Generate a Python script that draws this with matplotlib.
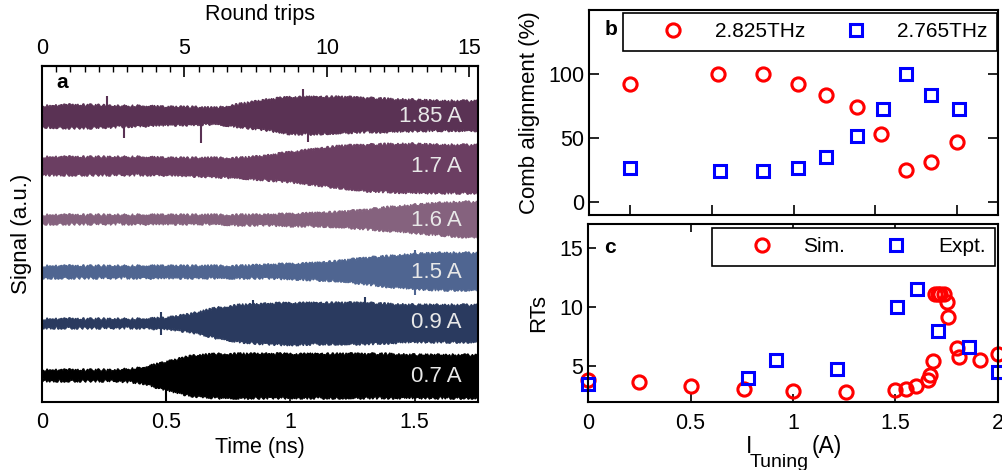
import numpy as np
import matplotlib
matplotlib.use('Agg')
import matplotlib.pyplot as plt
from matplotlib.ticker import MultipleLocator, FixedLocator, NullFormatter

plt.rcParams['font.family'] = ['Liberation Sans', 'DejaVu Sans']
plt.rcParams['font.size'] = 15.5
plt.rcParams['axes.linewidth'] = 1.5

FS_TICK = 15.5
FS_XLAB = 15.5
FS_YLAB = 16
FS_LEG = 15
FS_LETTER = 15

# ---------------- Panel a data (envelopes) ----------------
TIME_NS = [0.0, 0.1, 0.2, 0.3, 0.4, 0.5, 0.6, 0.7, 0.8, 0.9,
           1.0, 1.1, 1.2, 1.3, 1.4, 1.5, 1.6, 1.7, 1.8]
ROUND_TRIP_NS = 0.1147
TRACE_LABELS = ['1.85 A', '1.7 A', '1.6 A', '1.5 A', '0.9 A', '0.7 A']
TRACE_OFFSETS = [28.6, 23.6, 18.2, 13.0, 7.9, 2.6]
TRACE_COLORS = ['#5a3254', '#6b3e62', '#85627e', '#4f6591', '#2a3a5f', '#000000']

ENV_UP_185 = [1.0, 1.1, 1.1, 1.0, 1.0, 0.9, 0.9, 0.8, 1.2, 1.6, 1.9, 1.9, 1.9, 1.8, 1.7, 1.6, 1.5, 1.5, 1.5]
ENV_LO_185 = [-1.1, -1.2, -1.2, -1.1, -1.0, -0.9, -0.9, -0.8, -1.1, -1.4, -1.8, -1.8, -1.7, -1.6, -1.6, -1.5, -1.45, -1.45, -1.45]
ENV_UP_170 = [0.9, 0.9, 0.9, 0.9, 0.9, 0.8, 0.8, 0.8, 0.8, 1.0, 1.4, 1.7, 2.0, 2.1, 2.2, 2.2, 2.1, 2.1, 2.1]
ENV_LO_170 = [-0.9, -0.9, -0.9, -0.9, -0.9, -0.9, -1.0, -1.1, -1.2, -1.4, -1.6, -1.9, -2.2, -2.5, -2.6, -2.7, -2.7, -2.7, -2.7]
ENV_UP_160 = [0.5, 0.5, 0.5, 0.5, 0.5, 0.5, 0.5, 0.5, 0.5, 0.5, 0.6, 0.7, 0.8, 1.0, 1.3, 1.5, 1.7, 1.8, 1.8]
ENV_LO_160 = [-0.4, -0.4, -0.4, -0.4, -0.4, -0.4, -0.4, -0.4, -0.5, -0.5, -0.6, -0.6, -0.7, -0.9, -1.1, -1.3, -1.5, -1.7, -1.7]
ENV_UP_150 = [0.6, 0.6, 0.6, 0.6, 0.6, 0.6, 0.6, 0.6, 0.6, 0.7, 0.8, 0.9, 1.1, 1.4, 1.6, 1.8, 1.9, 1.9, 1.9]
ENV_LO_150 = [-0.6, -0.6, -0.6, -0.6, -0.6, -0.6, -0.6, -0.6, -0.6, -0.6, -0.7, -0.8, -0.9, -1.2, -1.5, -1.7, -1.8, -1.8, -1.8]
ENV_UP_090 = [0.4, 0.4, 0.4, 0.4, 0.4, 0.5, 0.9, 1.5, 1.8, 1.9, 2.0, 2.0, 2.0, 2.0, 1.9, 1.8, 1.8, 1.8, 1.8]
ENV_LO_090 = [-0.5, -0.5, -0.5, -0.5, -0.5, -0.6, -0.9, -1.5, -1.9, -2.1, -2.2, -2.1, -2.1, -2.1, -2.0, -1.9, -1.9, -1.9, -1.9]
ENV_UP_070 = [0.6, 0.6, 0.6, 0.6, 0.8, 1.4, 2.0, 2.2, 2.2, 2.2, 2.2, 2.2, 2.2, 2.2, 2.2, 2.1, 2.1, 2.1, 2.1]
ENV_LO_070 = [-0.5, -0.5, -0.5, -0.5, -0.7, -1.4, -2.0, -2.2, -2.2, -2.2, -2.2, -2.2, -2.2, -2.2, -2.2, -2.2, -2.2, -2.2, -2.2]

ENV_UP = [ENV_UP_185, ENV_UP_170, ENV_UP_160, ENV_UP_150, ENV_UP_090, ENV_UP_070]
ENV_LO = [ENV_LO_185, ENV_LO_170, ENV_LO_160, ENV_LO_150, ENV_LO_090, ENV_LO_070]

# isolated spikes: (time ns, amplitude a.u.)
SPIKES_185 = [(0.26, 2.0), (0.33, -2.2), (0.64, -2.7), (1.05, 2.7), (1.07, -2.6)]
SPIKES_150 = [(1.50, 2.2), (1.50, -2.3)]
SPIKES_090 = [(0.48, 1.1), (0.48, -1.2), (0.85, 2.3), (1.30, 2.6)]
SPIKES_070 = [(0.50, -2.6)]
SPIKES = [SPIKES_185, [], [], SPIKES_150, SPIKES_090, SPIKES_070]

# ---------------- Panel b data ----------------
B_X_2825 = [0.20, 0.63, 0.85, 1.02, 1.16, 1.31, 1.43, 1.55, 1.67, 1.80]
B_Y_2825 = [92, 100, 100, 92, 84, 74, 53, 25, 31, 47]
B_X_2765 = [0.20, 0.64, 0.85, 1.02, 1.16, 1.31, 1.44, 1.55, 1.67, 1.81]
B_Y_2765 = [27, 24, 24, 27, 35, 52, 73, 100, 84, 73]

# ---------------- Panel c data ----------------
SIM_X = [0.0, 0.25, 0.50, 0.76, 1.00, 1.26, 1.50, 1.55, 1.60, 1.658, 1.669, 1.682,
         1.694, 1.707, 1.718, 1.735, 1.750, 1.756, 1.80, 1.81, 1.91, 2.00]
SIM_Y = [3.88, 3.69, 3.35, 3.07, 2.90, 2.85, 3.04, 3.13, 3.35, 3.83, 4.25, 5.45,
         11.1, 11.1, 11.1, 11.1, 10.45, 9.13, 6.54, 5.78, 5.50, 6.06]
EXP_X = [0.0, 0.78, 0.915, 1.213, 1.507, 1.604, 1.707, 1.858, 2.00]
EXP_Y = [3.55, 4.05, 5.50, 4.80, 10.03, 11.50, 8.00, 6.60, 4.53]

fig = plt.figure(figsize=(10.03, 4.70), dpi=100)

# ================= Panel a =================
axa = fig.add_axes([42/1003, 68/470, 436/1003, 336/470])
t = np.array(TIME_NS)
for off, up, lo, col, lab, spk in zip(TRACE_OFFSETS, ENV_UP, ENV_LO, TRACE_COLORS, TRACE_LABELS, SPIKES):
    yu = off + np.array(up)
    yl = off + np.array(lo)
    poly = axa.fill(np.r_[t, t[::-1]], np.r_[yu, yl[::-1]], color=col, lw=0.8)[0]
    poly.set_sketch_params(1.3, 2.5, 3.0)
    for ts, amp in spk:
        axa.plot([ts, ts], [off, off + amp], color=col, lw=1.5, solid_capstyle='butt')
    axa.text(1.69, off, lab, ha='right', va='center', color='#e8e8e8', fontsize=16)

axa.set_xlim(0, 1.755)
axa.set_ylim(0, 33.6)
axa.set_yticks([])
axa.xaxis.set_major_locator(FixedLocator([0, 0.5, 1, 1.5]))
axa.set_xticklabels(['0', '0.5', '1', '1.5'])
axa.tick_params(axis='x', direction='in', length=5, width=1.2, pad=7, labelsize=FS_TICK)
axa.set_xlabel('Time (ns)', fontsize=FS_XLAB, labelpad=3)
axa.set_ylabel('Signal (a.u.)', fontsize=FS_YLAB, labelpad=7)
axa.text(0.034, 0.95, 'a', transform=axa.transAxes, fontsize=FS_LETTER, fontweight='bold', va='center')

sec = axa.secondary_xaxis('top', functions=(lambda x: x / ROUND_TRIP_NS, lambda n: n * ROUND_TRIP_NS))
sec.xaxis.set_major_locator(FixedLocator([0, 5, 10, 15]))
sec.xaxis.set_minor_locator(MultipleLocator(0.5))
sec.tick_params(which='major', direction='in', length=8, width=1.2, pad=5, labelsize=FS_TICK)
sec.tick_params(which='minor', direction='in', length=4, width=1.0)
sec.set_xlabel('Round trips', fontsize=FS_XLAB, labelpad=13)

# ================= Panel b =================
axb = fig.add_axes([589/1003, 255/470, 409/1003, 205/470])
axb.plot(B_X_2825, B_Y_2825, 'o', ls='none', ms=9.5, mfc='none', mec='red', mew=2.2, label='2.825THz')
axb.plot(B_X_2765, B_Y_2765, 's', ls='none', ms=8.5, mfc='none', mec='blue', mew=2.2, label='2.765THz')
axb.set_xlim(0, 2)
axb.set_ylim(-10, 150)
axb.set_yticks([0, 50, 100])
axb.xaxis.set_major_locator(FixedLocator([0.2, 0.6, 1.0, 1.4, 1.8]))
axb.xaxis.set_major_formatter(NullFormatter())
axb.tick_params(axis='both', direction='in', length=7, width=1.2, right=True, labelsize=FS_TICK)
axb.set_ylabel('Comb alignment (%)', fontsize=FS_YLAB, labelpad=6)
axb.text(0.039, 0.905, 'b', transform=axb.transAxes, fontsize=FS_LETTER, fontweight='bold', va='center')
legb = axb.legend(loc='upper left', bbox_to_anchor=(0.083, 0.79, 0.915, 0.195), mode='expand',
                  ncol=2, frameon=True, fancybox=False, edgecolor='black', framealpha=1,
                  handlelength=3.9, handletextpad=0.05, borderpad=0.45, fontsize=FS_LEG,
                  borderaxespad=0, columnspacing=0.5)
legb.get_frame().set_linewidth(1.2)

# ================= Panel c =================
axc = fig.add_axes([588/1003, 68/470, 410/1003, 178/470])
axc.plot(SIM_X, SIM_Y, 'o', ls='none', ms=9.5, mfc='none', mec='red', mew=2.2, label='Sim.', clip_on=False)
axc.plot(EXP_X, EXP_Y, 's', ls='none', ms=8.5, mfc='none', mec='blue', mew=2.2, label='Expt.', clip_on=False)
axc.set_xlim(0, 2)
axc.set_ylim(2, 17)
axc.set_yticks([5, 10, 15])
axc.set_xticks([0, 0.5, 1, 1.5, 2])
axc.set_xticklabels(['0', '0.5', '1', '1.5', '2'])
axc.tick_params(axis='both', direction='in', length=6, width=1.2, top=True, labelsize=FS_TICK)
axc.tick_params(axis='x', pad=8)
axc.set_ylabel('RTs', fontsize=FS_YLAB, labelpad=7)
axc.text(0.039, 0.87, 'c', transform=axc.transAxes, fontsize=FS_LETTER, fontweight='bold', va='center')
legc = axc.legend(loc='upper left', bbox_to_anchor=(0.302, 0.758, 0.691, 0.22), mode='expand',
                  ncol=2, frameon=True, fancybox=False, edgecolor='black', framealpha=1,
                  handlelength=3.9, handletextpad=0.05, borderpad=0.45, fontsize=FS_LEG,
                  borderaxespad=0, columnspacing=0.5)
legc.get_frame().set_linewidth(1.2)

# x label with large subscript
fig.text(746/1003, (470-453)/470, 'I', fontsize=16.5, va='baseline', ha='left')
fig.text(750/1003, (470-467)/470, 'Tuning', fontsize=14, va='baseline', ha='left')
fig.text(812/1003, (470-453)/470, '(A)', fontsize=16.5, va='baseline', ha='left')

fig.savefig('out.png', dpi=100)
